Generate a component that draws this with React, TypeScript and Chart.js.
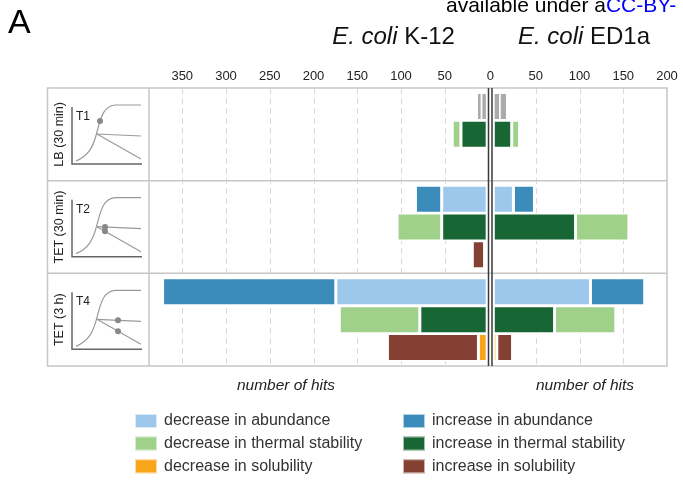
import React, { useEffect, useRef } from 'react';
import { Chart, registerables } from 'chart.js';

Chart.register(...registerables);

// ---------- data ----------
const rowNames = ['T1', 'T2', 'T4'];
const conditionLabels = ['LB (30 min)', 'TET (30 min)', 'TET (3 h)'];
const leftTicks = [350, 300, 250, 200, 150, 100, 50];
const rightTicks = [50, 100, 150, 200];

// E. coli K-12 (left side), one value per time point T1, T2, T4
const k12DecAbundance = [0, 52, 173];
const k12IncAbundance = [0, 30, 198];
const k12DecStability = [10, 51, 92];
const k12IncStability = [30, 52, 77];
const k12DecSolubility = [0, 3, 10];
const k12IncSolubility = [0, 14, 104];

// E. coli ED1a (right side)
const ed1aDecAbundance = [0, 23, 111];
const ed1aIncAbundance = [0, 24, 62];
const ed1aDecStability = [9, 61, 70];
const ed1aIncStability = [21, 94, 70];
const ed1aDecSolubility = [0, 0, 4];
const ed1aIncSolubility = [0, 0, 18];

// grey marks in T1 abundance row (ranges in number of hits from zero)
const k12GreyMarks = [[3, 7], [9, 12]];
const ed1aGreyMarks = [[3, 8], [10, 16]];

const legendLabels = [
  'decrease in abundance',
  'increase in abundance',
  'decrease in thermal stability',
  'increase in thermal stability',
  'decrease in solubility',
  'increase in solubility',
];
const legendColors = ['#9dc8eb', '#3b8cba', '#9fd18b', '#186633', '#f9a51b', '#834033'];

// ---------- layout constants ----------
const HALF = 2; // half gap between the two zero lines (axis units)
const START = 1.5; // bar start offset from zero line
const X_MIN = -390;
const X_MAX = 202;
const SUB_STEP = 0.3;
const FONT = 'Arial, "Liberation Sans", Helvetica, sans-serif';

function buildDatasets() {
  const data: any[][] = legendLabels.map(() => []);
  // measure: [subrow, innerDatasetIdx, outerDatasetIdx, leftInner, leftOuter, rightInner, rightOuter]
  const measures: [number, number, number, number[], number[], number[], number[]][] = [
    [0, 0, 1, k12DecAbundance, k12IncAbundance, ed1aDecAbundance, ed1aIncAbundance],
    [1, 3, 2, k12IncStability, k12DecStability, ed1aIncStability, ed1aDecStability],
    [2, 4, 5, k12DecSolubility, k12IncSolubility, ed1aDecSolubility, ed1aIncSolubility],
  ];
  measures.forEach(([sub, innerIdx, outerIdx, lIn, lOut, rIn, rOut]) => {
    rowNames.forEach((_, i) => {
      const y = i + 0.5 + (sub - 1) * SUB_STEP;
      ([[-1, lIn[i], lOut[i]], [1, rIn[i], rOut[i]]] as number[][]).forEach(([s, a, b]) => {
        const base = HALF + START;
        if (a > 0) data[innerIdx].push({ y, x: [s * base, s * (base + a)] });
        if (b > 0) data[outerIdx].push({ y, x: [s * (base + a), s * (base + a + b)] });
      });
    });
  });
  const datasets: any[] = legendLabels.map((label, k) => ({
    label,
    data: data[k],
    backgroundColor: legendColors[k],
    borderColor: '#ffffff',
    borderWidth: 1.5,
    borderSkipped: false,
    inflateAmount: 0,
    barThickness: 28,
    grouped: false,
  }));
  const greyY = 0 + 0.5 - SUB_STEP;
  const grey: any[] = [];
  k12GreyMarks.forEach(([a, b]) => grey.push({ y: greyY, x: [-(HALF + a), -(HALF + b)] }));
  ed1aGreyMarks.forEach(([a, b]) => grey.push({ y: greyY, x: [HALF + a, HALF + b] }));
  datasets.push({
    label: 'grey',
    data: grey,
    backgroundColor: '#ababab',
    borderWidth: 0,
    inflateAmount: 0,
    barThickness: 25,
    grouped: false,
  });
  return datasets;
}

const tickPositions = [
  ...leftTicks.map((v) => -(v + HALF)),
  0,
  ...rightTicks.map((v) => v + HALF),
];

function drawPanel(ctx: CanvasRenderingContext2D, i: number, bt: number, bb: number) {
  // rotated condition label
  ctx.save();
  ctx.translate(60, (bt + bb) / 2);
  ctx.rotate(-Math.PI / 2);
  ctx.font = `12.5px ${FONT}`;
  ctx.fillStyle = '#222';
  ctx.textAlign = 'center';
  ctx.textBaseline = 'middle';
  ctx.fillText(conditionLabels[i], 0, 0);
  ctx.restore();

  const r = (v: number) => bt + v;
  // axes
  ctx.save();
  ctx.strokeStyle = '#666';
  ctx.lineWidth = 1.5;
  ctx.beginPath();
  ctx.moveTo(72, r(19));
  ctx.lineTo(72, r(76));
  ctx.lineTo(142, r(76));
  ctx.stroke();

  // label T
  ctx.font = `12px ${FONT}`;
  ctx.fillStyle = '#222';
  ctx.textAlign = 'left';
  ctx.textBaseline = 'alphabetic';
  ctx.fillText(rowNames[i], 76, r(32));

  // growth curve
  ctx.strokeStyle = '#9a9a9a';
  ctx.lineWidth = 1.2;
  ctx.beginPath();
  ctx.moveTo(76, r(73));
  ctx.bezierCurveTo(88, r(68), 93, r(60), 97, r(44));
  ctx.bezierCurveTo(101, r(28), 104, r(18), 115, r(17));
  ctx.lineTo(141, r(17));
  ctx.stroke();
  ctx.beginPath();
  ctx.moveTo(97, r(46));
  ctx.lineTo(141, r(48));
  ctx.stroke();
  ctx.beginPath();
  ctx.moveTo(97, r(46));
  ctx.lineTo(141, r(71));
  ctx.stroke();

  // sampling dots
  ctx.fillStyle = '#888';
  const dot = (x: number, y: number) => {
    ctx.beginPath();
    ctx.arc(x, r(y), 3, 0, Math.PI * 2);
    ctx.fill();
  };
  if (i === 0) dot(100, 33);
  if (i === 1) {
    dot(105, 46.4);
    dot(105, 50.5);
  }
  if (i === 2) {
    dot(118, 47);
    dot(118, 57.9);
  }
  ctx.restore();
}

const figurePlugin = {
  id: 'figure',
  beforeDatasetsDraw(chart: any) {
    const { ctx, chartArea, scales } = chart;
    const { top, bottom, left, right } = chartArea;
    const xs = scales.x;
    const ys = scales.y;
    ctx.save();
    // dashed gridlines
    ctx.strokeStyle = '#d9d9d9';
    ctx.lineWidth = 1;
    ctx.setLineDash([6, 4]);
    tickPositions.forEach((v) => {
      if (v === 0 || v >= X_MAX) return;
      const x = Math.round(xs.getPixelForValue(v)) + 0.5;
      ctx.beginPath();
      ctx.moveTo(x, top);
      ctx.lineTo(x, bottom);
      ctx.stroke();
    });
    ctx.setLineDash([]);
    // frame
    ctx.strokeStyle = '#c6c6c6';
    ctx.lineWidth = 1.5;
    const fl = 47.5;
    ctx.strokeRect(fl, top, right - fl, bottom - top);
    ctx.beginPath();
    ctx.moveTo(left, top);
    ctx.lineTo(left, bottom);
    [1, 2].forEach((v) => {
      const y = ys.getPixelForValue(v);
      ctx.moveTo(fl, y);
      ctx.lineTo(right, y);
    });
    ctx.stroke();
    // left panels
    rowNames.forEach((_, i) => {
      drawPanel(ctx, i, ys.getPixelForValue(i), ys.getPixelForValue(i + 1));
    });
    ctx.restore();
  },
  afterDatasetsDraw(chart: any) {
    const { ctx, chartArea, scales } = chart;
    ctx.save();
    ctx.strokeStyle = '#3a3a3a';
    ctx.lineWidth = 1.5;
    [-HALF, HALF].forEach((v) => {
      const x = scales.x.getPixelForValue(v);
      ctx.beginPath();
      ctx.moveTo(x, chartArea.top);
      ctx.lineTo(x, chartArea.bottom);
      ctx.stroke();
    });
    ctx.restore();
  },
  afterDraw(chart: any) {
    const { ctx } = chart;
    ctx.save();
    ctx.textBaseline = 'alphabetic';
    ctx.textAlign = 'left';
    // panel letter
    ctx.fillStyle = '#000';
    ctx.font = `34px ${FONT}`;
    ctx.fillText('A', 8, 33);
    // license header
    ctx.font = `21px ${FONT}`;
    const pre = 'available under a';
    ctx.fillText(pre, 446, 12);
    const w = ctx.measureText(pre).width;
    ctx.fillStyle = '#0000ff';
    ctx.fillText('CC-BY-', 446 + w, 12);
    // strain titles
    const title = (name: string, cx: number) => {
      ctx.fillStyle = '#111';
      ctx.font = `italic 24px ${FONT}`;
      const a = 'E. coli ';
      const wa = ctx.measureText(a).width;
      ctx.font = `24px ${FONT}`;
      const wb = ctx.measureText(name).width;
      const x0 = cx - (wa + wb) / 2;
      ctx.font = `italic 24px ${FONT}`;
      ctx.fillText(a, x0, 44);
      ctx.font = `24px ${FONT}`;
      ctx.fillText(name, x0 + wa, 44);
    };
    title('K-12', 393.5);
    title('ED1a', 584);
    // axis titles
    ctx.font = `italic 15.5px ${FONT}`;
    ctx.fillStyle = '#222';
    ctx.textAlign = 'center';
    ctx.fillText('number of hits', 286, 390);
    ctx.fillText('number of hits', 585, 390);
    // legend
    ctx.textAlign = 'left';
    ctx.textBaseline = 'middle';
    ctx.font = `16px ${FONT}`;
    const rowsY = [421, 443.5, 466.3];
    legendLabels.forEach((label, k) => {
      const col = k % 2;
      const row = Math.floor(k / 2);
      const sx = col === 0 ? 135 : 403;
      const tx = col === 0 ? 164 : 432;
      const y = rowsY[row];
      ctx.fillStyle = legendColors[k];
      ctx.fillRect(sx, y - 7, 22, 14);
      ctx.strokeStyle = 'rgba(255,255,255,0.6)';
      ctx.lineWidth = 1;
      ctx.strokeRect(sx + 0.5, y - 6.5, 21, 13);
      ctx.fillStyle = '#333';
      ctx.fillText(label, tx, y);
    });
    ctx.restore();
  },
};

export default function App() {
  const canvasRef = useRef<HTMLCanvasElement | null>(null);
  useEffect(() => {
    if (!canvasRef.current) return;
    const chart = new Chart(canvasRef.current, {
      type: 'bar',
      data: { datasets: buildDatasets() },
      options: {
        indexAxis: 'y',
        responsive: false,
        animation: false,
        events: [],
        layout: { padding: { left: 149, right: 16, top: 0, bottom: 114 } },
        scales: {
          x: {
            type: 'linear',
            position: 'top',
            min: X_MIN,
            max: X_MAX,
            offset: false,
            grid: { display: false, drawTicks: false },
            border: { display: false },
            ticks: {
              padding: 4,
              color: '#222',
              autoSkip: false,
              maxRotation: 0,
              font: { size: 13, family: FONT },
              callback: (v: any) => (v === 0 ? '0' : String(Math.abs(v) - HALF)),
            },
            afterBuildTicks: (scale: any) => {
              scale.ticks = tickPositions.map((v) => ({ value: v }));
            },
            afterFit: (scale: any) => {
              scale.height = 88;
            },
          },
          y: { type: 'linear', min: 0, max: 3, reverse: true, offset: false, display: false },
        },
        plugins: { legend: { display: false }, tooltip: { enabled: false } },
      },
      plugins: [figurePlugin],
    } as any);
    return () => chart.destroy();
  }, []);
  return (
    <div style={{ position: 'absolute', left: 0, top: 0, width: 683, height: 480, background: '#fff' }}>
      <canvas ref={canvasRef} width={683} height={480} />
    </div>
  );
}
